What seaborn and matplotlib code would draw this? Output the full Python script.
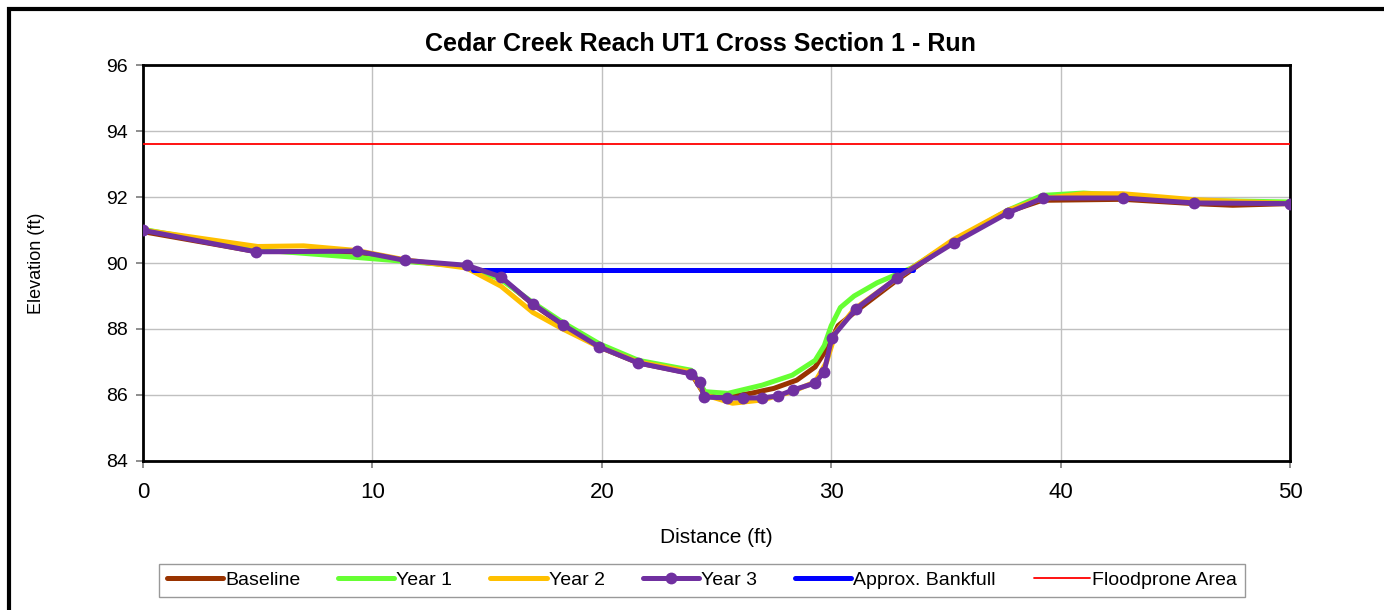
import matplotlib
matplotlib.use("Agg")
import matplotlib.pyplot as plt
import matplotlib.ticker as ticker
from matplotlib.patches import Rectangle
import pandas as pd
import seaborn as sns

# station (ft) / elevation (ft)
year3_x = [0, 4.93, 9.33, 11.42, 14.12, 15.6, 17.0, 18.3, 19.88, 21.6, 23.9, 24.3,
           24.45, 25.46, 26.16, 26.98, 27.68, 28.33, 29.29, 29.69, 30.03, 31.08,
           32.87, 35.35, 37.71, 39.23, 42.72, 45.81, 50.0]
year3_e = [90.99, 90.34, 90.36, 90.08, 89.93, 89.58, 88.76, 88.13, 87.46, 86.97,
           86.64, 86.39, 85.94, 85.91, 85.91, 85.91, 85.97, 86.15, 86.36, 86.70,
           87.74, 88.61, 89.55, 90.61, 91.52, 91.97, 91.97, 91.82, 91.80]

baseline_x = [0, 4.9, 9.3, 11.4, 14.1, 15.6, 17.0, 18.3, 19.9, 21.6, 23.9, 24.5,
              25.5, 26.5, 27.5, 28.5, 29.3, 29.9, 30.3, 31.1, 32.9, 35.3, 37.7,
              39.2, 42.7, 45.8, 47.5, 50.0]
baseline_e = [90.95, 90.35, 90.33, 90.07, 89.9, 89.55, 88.75, 88.12, 87.45, 86.97,
              86.65, 85.98, 85.95, 86.05, 86.2, 86.45, 86.85, 87.5, 88.1, 88.55,
              89.5, 90.65, 91.55, 91.9, 91.93, 91.8, 91.75, 91.8]

year1_x = [0, 5.0, 9.3, 11.4, 14.1, 15.6, 17.0, 18.3, 19.9, 21.6, 23.9, 24.5,
           25.5, 27.0, 28.3, 29.3, 29.7, 30.0, 30.4, 31.0, 32.0, 33.5, 35.3,
           37.7, 39.2, 41.0, 42.7, 45.8, 50.0]
year1_e = [91.02, 90.4, 90.17, 90.05, 89.9, 89.5, 88.8, 88.2, 87.55, 87.05,
           86.75, 86.1, 86.05, 86.3, 86.6, 87.05, 87.5, 88.1, 88.65, 89.0,
           89.4, 89.85, 90.65, 91.6, 92.05, 92.12, 92.05, 91.9, 91.85]

year2_x = [0, 5.0, 7.0, 9.3, 11.4, 14.1, 15.6, 17.0, 18.3, 19.9, 21.6, 23.9,
           24.5, 25.7, 27.0, 28.3, 29.3, 29.8, 30.2, 31.0, 32.9, 35.3, 37.7,
           39.2, 41.0, 42.7, 45.8, 50.0]
year2_e = [91.0, 90.5, 90.52, 90.38, 90.1, 89.85, 89.3, 88.5, 88.0, 87.45,
           87.0, 86.7, 86.0, 85.75, 85.85, 86.1, 86.4, 87.0, 87.9, 88.6,
           89.55, 90.7, 91.6, 91.95, 92.1, 92.1, 91.92, 91.8]

bankfull_x = [14.4, 33.57]
bankfull_e = [89.79, 89.79]

floodprone_x = [0, 50]
floodprone_e = [93.62, 93.62]

series = [
    ("Baseline", baseline_x, baseline_e, "#993300"),
    ("Year 1", year1_x, year1_e, "#66FF33"),
    ("Year 2", year2_x, year2_e, "#FFC000"),
    ("Year 3", year3_x, year3_e, "#7030A0"),
    ("Approx. Bankfull", bankfull_x, bankfull_e, "#0000FF"),
    ("Floodprone Area", floodprone_x, floodprone_e, "#FF0000"),
]

sns.set_theme(style="white")
plt.rcParams["font.family"] = ["Liberation Sans", "DejaVu Sans"]
plt.rcParams["text.color"] = "black"
plt.rcParams["axes.labelcolor"] = "black"
plt.rcParams["xtick.color"] = "black"
plt.rcParams["ytick.color"] = "black"

fig = plt.figure(figsize=(13.84, 6.10), dpi=100)
ax = fig.add_axes([0.1033, 0.2443, 0.8288, 0.6491])

for name, xs, es, color in series:
    df = pd.DataFrame({"x": xs, "e": es})
    kw = dict(data=df, x="x", y="e", sort=False, color=color, label=name, ax=ax,
              estimator=None)
    if name == "Year 3":
        sns.lineplot(**kw, linewidth=3.6, marker="o", markersize=8.5,
                     markeredgewidth=0, zorder=4)
    elif name == "Floodprone Area":
        sns.lineplot(**kw, linewidth=1.3, zorder=5)
    elif name == "Approx. Bankfull":
        sns.lineplot(**kw, linewidth=3.6, zorder=3.5)
    else:
        sns.lineplot(**kw, linewidth=3.6, zorder=3)

ax.set_xlim(0, 50)
ax.set_ylim(84, 96)
ax.xaxis.set_major_locator(ticker.MultipleLocator(10))
ax.yaxis.set_major_locator(ticker.MultipleLocator(2))
ax.grid(True, color="#c0c0c0", linewidth=1.0)
for sp in ax.spines.values():
    sp.set_color("black")
    sp.set_linewidth(2)
ax.tick_params(axis="x", labelsize=16, length=5, color="#808080", pad=10,
               bottom=True, direction="out", labelcolor="black")
ax.tick_params(axis="y", labelsize=14, length=5, color="#808080", pad=6,
               left=True, direction="out", labelcolor="black")

# title is centred on the whole chart area, not on the plot area
ax.set_title("Cedar Creek Reach UT1 Cross Section 1 - Run", fontsize=18,
             fontweight="bold", pad=10, color="black", x=0.486)
ax.set_xlabel("Distance (ft)", fontsize=15, labelpad=18)
ax.set_ylabel("Elevation (ft)", fontsize=13, labelpad=44)

handles, labels = ax.get_legend_handles_labels()
if ax.legend_:
    ax.legend_.remove()
leg = fig.legend(handles, labels, loc="center", bbox_to_anchor=(0.507, 0.049),
                 ncol=6, frameon=True, fancybox=False, edgecolor="#808080",
                 handlelength=2.9, handletextpad=0.1,
                 columnspacing=1.95, borderpad=0.4,
                 prop={"family": ["Liberation Sans Narrow", "Liberation Sans"],
                       "size": 14})
leg.get_frame().set_linewidth(1.0)

# outer chart frame (only left and top edges visible in the crop)
fig.patches.append(Rectangle((0.0062, -0.2), 1.5, 1.186, transform=fig.transFigure,
                             fill=False, edgecolor="black", linewidth=3,
                             clip_on=False))

fig.savefig("out.png", dpi=100)
